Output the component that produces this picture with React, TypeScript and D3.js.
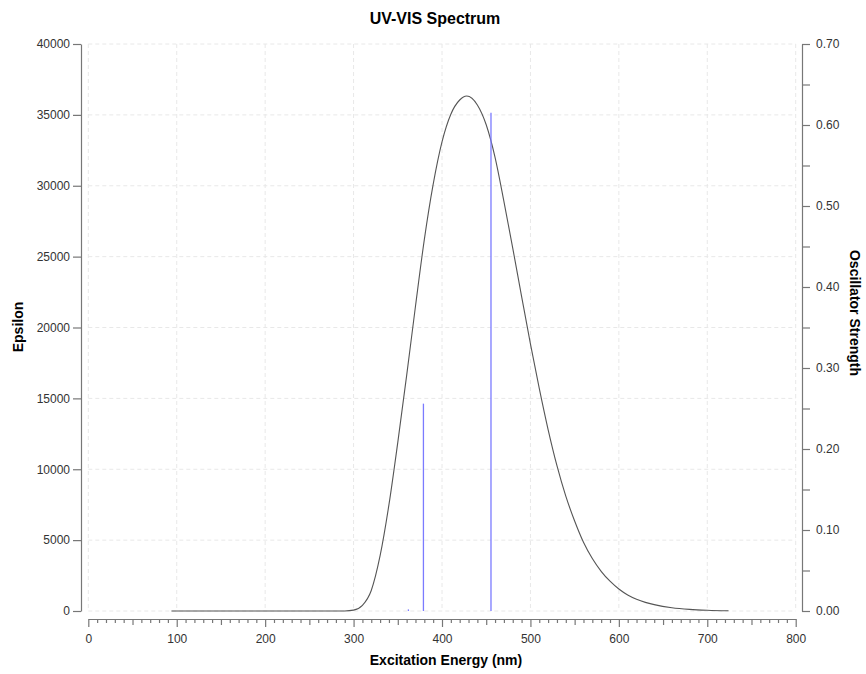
import React, { useEffect, useRef } from 'react';
import * as d3 from 'd3';

// spectrum curve (nm, epsilon)
const wavelengths = [94, 150, 200, 250, 290, 300, 310, 320, 330, 340, 350, 360, 370, 380, 390, 400, 410, 420, 428, 440, 450, 460, 470, 480, 490, 500, 510, 520, 530, 540, 550, 560, 570, 580, 590, 600, 610, 620, 630, 640, 660, 680, 700, 724];
const epsilon = [0, 0, 0, 0, 5, 60, 400, 1450, 3900, 7500, 11900, 16600, 21500, 26200, 30100, 33100, 35050, 36050, 36330, 35700, 34300, 32000, 28900, 25600, 22200, 18850, 15700, 12800, 10250, 8100, 6350, 4850, 3700, 2800, 2100, 1550, 1130, 830, 610, 450, 230, 115, 55, 20];

// stick spectrum (nm, oscillator strength)
const stickNm = [362, 379, 455.4];
const stickF = [0.002, 0.256, 0.615];

const epsTicks = [0, 5000, 10000, 15000, 20000, 25000, 30000, 35000, 40000];
const fTicks = [0, 0.05, 0.1, 0.15, 0.2, 0.25, 0.3, 0.35, 0.4, 0.45, 0.5, 0.55, 0.6, 0.65, 0.7];
const nmTicks = d3.range(0, 801, 10);
const nmLabels = [0, 100, 200, 300, 400, 500, 600, 700, 800];

const font = '"Liberation Sans", Arial, Helvetica, sans-serif';

export default function App() {
  const svgRef = useRef<SVGSVGElement>(null);

  useEffect(() => {
    const width = 866;
    const height = 674;
    const left = 88.3, right = 795.7, top = 44, bottom = 611;

    const x = d3.scaleLinear().domain([0, 800]).range([left, right]);
    const yL = d3.scaleLinear().domain([0, 40000]).range([bottom, top]);
    const yR = d3.scaleLinear().domain([0, 0.7]).range([bottom, top]);

    const svg = d3.select(svgRef.current)
      .attr('width', width)
      .attr('height', height)
      .style('font-family', font);

    svg.append('rect').attr('width', width).attr('height', height).attr('fill', 'white');

    // grid
    const grid = svg.append('g')
      .attr('stroke', '#e8e8e8')
      .attr('stroke-width', 1)
      .attr('stroke-dasharray', '4,3');
    grid.selectAll('.h').data(epsTicks).join('line')
      .attr('x1', left).attr('x2', right)
      .attr('y1', d => yL(d)).attr('y2', d => yL(d));
    grid.selectAll('.v').data(nmLabels).join('line')
      .attr('x1', d => x(d)).attr('x2', d => x(d))
      .attr('y1', top).attr('y2', bottom);

    // left axis
    const gL = svg.append('g')
      .attr('transform', 'translate(81,0)')
      .call(d3.axisLeft(yL).tickValues(epsTicks).tickSize(8).tickSizeOuter(0).tickPadding(3).tickFormat(d3.format('d')));

    // right axis
    const gR = svg.append('g')
      .attr('transform', 'translate(802,0)')
      .call(d3.axisRight(yR).tickValues(fTicks).tickSize(8).tickSizeOuter(0).tickPadding(6)
        .tickFormat(d => (Math.round(+d * 100) % 10 === 0 ? d3.format('.2f')(+d) : '')));

    // bottom axis
    const gB = svg.append('g')
      .attr('transform', 'translate(0,619)')
      .call(d3.axisBottom(x).tickValues(nmTicks).tickSize(4).tickSizeOuter(0).tickPadding(11)
        .tickFormat(d => (+d % 100 === 0 ? String(d) : '')));
    gB.selectAll<SVGLineElement, number>('.tick line')
      .attr('y2', d => (d % 100 === 0 ? 8 : d % 50 === 0 ? 6 : 4));

    [gL, gR, gB].forEach(g => {
      g.select('.domain').attr('stroke', '#777').attr('stroke-width', 1.2);
      g.selectAll('.tick line').attr('stroke', '#777').attr('stroke-width', 1.2);
      g.selectAll('.tick text').attr('fill', '#333').style('font-size', '12px').style('font-family', font);
    });

    // spectrum
    const pts = wavelengths.map((w, i) => [w, epsilon[i]] as [number, number]);
    const line = d3.line<[number, number]>()
      .curve(d3.curveMonotoneX)
      .x(d => x(d[0]))
      .y(d => yL(d[1]));
    svg.append('path')
      .datum(pts)
      .attr('d', line)
      .attr('fill', 'none')
      .attr('stroke', '#555')
      .attr('stroke-width', 1.1);

    // sticks
    svg.append('g').selectAll('line')
      .data(stickNm.map((n, i) => [n, stickF[i]]))
      .join('line')
      .attr('x1', d => x(d[0])).attr('x2', d => x(d[0]))
      .attr('y1', yR(0)).attr('y2', d => yR(d[1]))
      .attr('stroke', '#7b7bff')
      .attr('stroke-width', 1.3);

    // titles
    svg.append('text')
      .attr('x', 435).attr('y', 24)
      .attr('text-anchor', 'middle')
      .style('font-size', '16px').style('font-weight', 'bold')
      .text('UV-VIS Spectrum');
    svg.append('text')
      .attr('x', 446).attr('y', 665)
      .attr('text-anchor', 'middle')
      .style('font-size', '14px').style('font-weight', 'bold')
      .text('Excitation Energy (nm)');
    svg.append('text')
      .attr('transform', 'translate(23,327) rotate(-90)')
      .attr('text-anchor', 'middle')
      .style('font-size', '14px').style('font-weight', 'bold')
      .text('Epsilon');
    svg.append('text')
      .attr('transform', 'translate(850,313) rotate(90)')
      .attr('text-anchor', 'middle')
      .style('font-size', '14px').style('font-weight', 'bold')
      .text('Oscillator Strength');

    return () => {
      svg.selectAll('*').remove();
    };
  }, []);

  return (
    <svg ref={svgRef} style={{ position: 'absolute', left: 0, top: 0 }}></svg>
  );
}
